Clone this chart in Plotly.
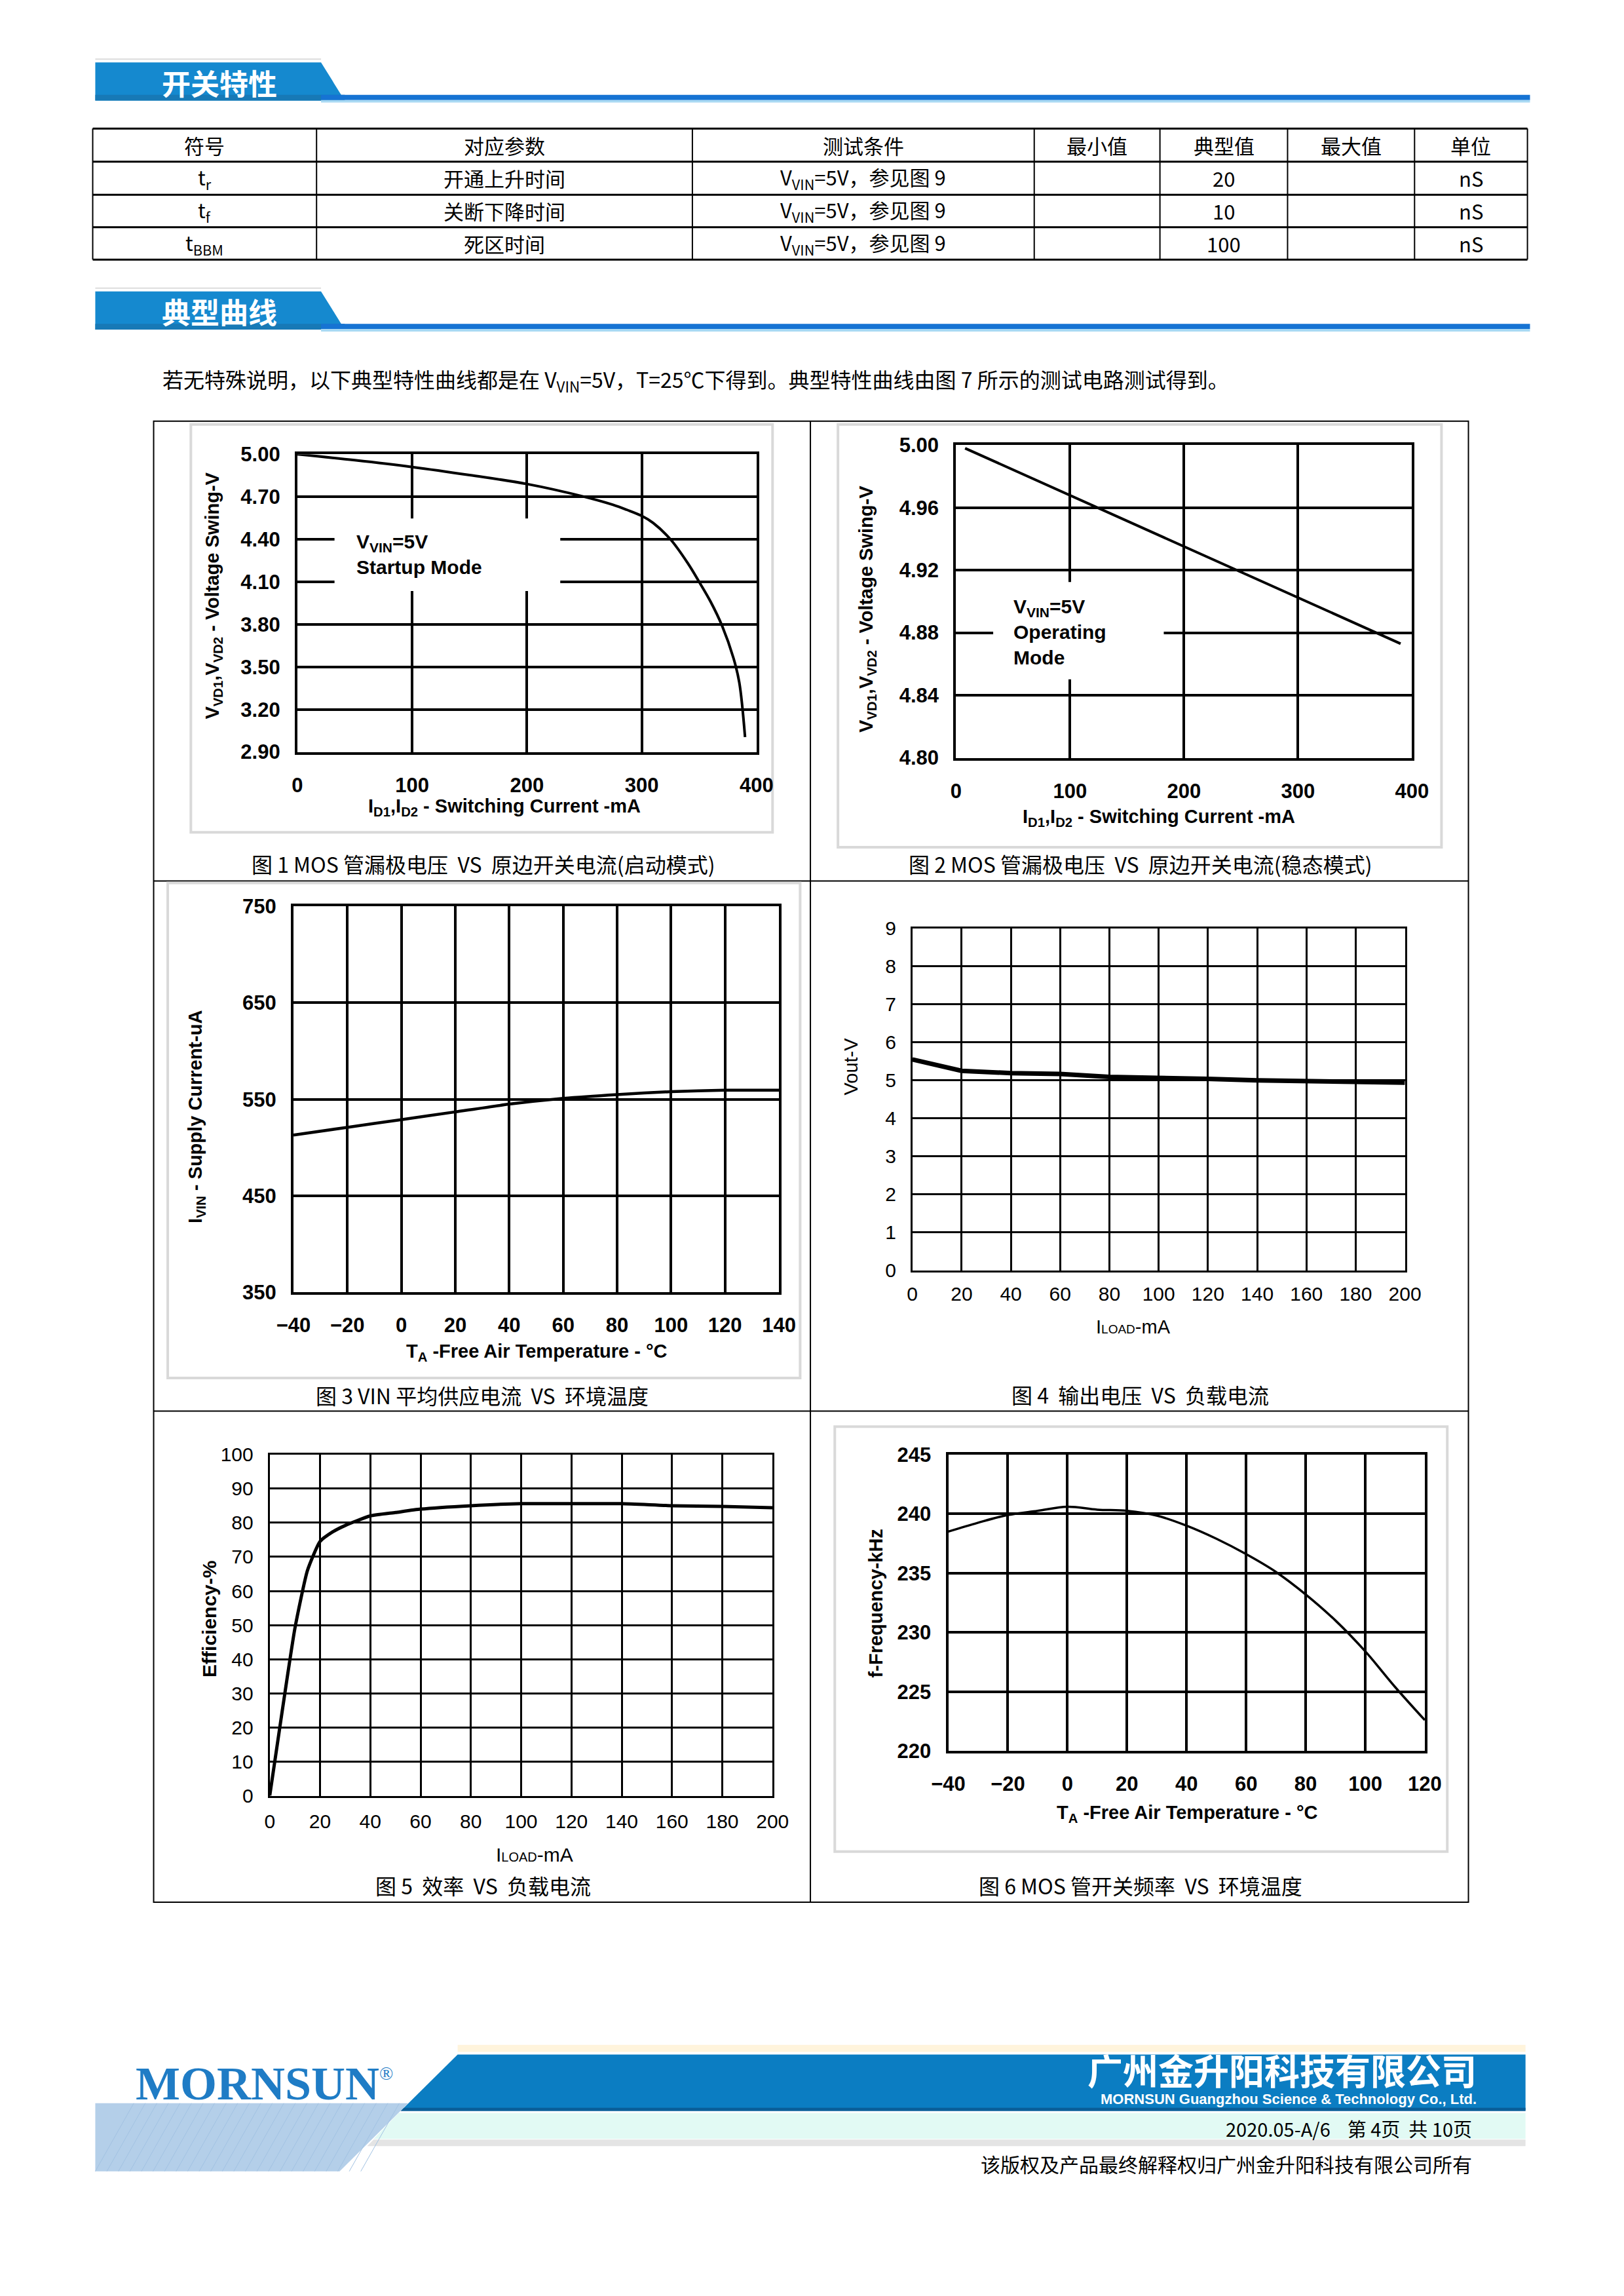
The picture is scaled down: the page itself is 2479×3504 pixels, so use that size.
import plotly.graph_objects as go

W, H = 2479, 3504
CJK = "Noto Sans CJK SC"
SANS = "Liberation Sans"
SERIF = "Liberation Serif"

# ---------------- table data ----------------
tbl_header = ["符号", "对应参数", "测试条件", "最小值", "典型值", "最大值", "单位"]
tbl_symbol = ["t<sub>r</sub>", "t<sub>f</sub>", "t<sub>BBM</sub>"]
tbl_param = ["开通上升时间", "关断下降时间", "死区时间"]
tbl_cond = ["V<sub>VIN</sub>=5V，参见图 9", "V<sub>VIN</sub>=5V，参见图 9", "V<sub>VIN</sub>=5V，参见图 9"]
tbl_min = ["", "", ""]
tbl_typ = ["20", "10", "100"]
tbl_max = ["", "", ""]
tbl_unit = ["nS", "nS", "nS"]

# ---------------- chart data ----------------
# Fig 1: startup mode
c1_current = [0, 50, 100, 150, 200, 250, 275, 287, 300, 310, 325, 340, 350, 360, 370, 380, 385, 390]
c1_voltage = [5.00, 4.958, 4.91, 4.853, 4.79, 4.70, 4.643, 4.608, 4.565, 4.515, 4.40, 4.233, 4.10, 3.96, 3.79, 3.56, 3.39, 3.005]
c1_xticks = [0, 100, 200, 300, 400]
c1_yticks = [2.90, 3.20, 3.50, 3.80, 4.10, 4.40, 4.70, 5.00]

# Fig 2: operating mode
c2_current = [8, 390]
c2_voltage = [4.998, 4.873]
c2_xticks = [0, 100, 200, 300, 400]
c2_yticks = [4.80, 4.84, 4.88, 4.92, 4.96, 5.00]

# Fig 3: supply current vs temperature
c3_temp = [-40, -20, 0, 20, 40, 60, 80, 100, 120, 140]
c3_current = [513, 521, 529, 537, 545, 551, 555, 558, 559.5, 559.5]
c3_xticks = [-40, -20, 0, 20, 40, 60, 80, 100, 120, 140]
c3_yticks = [350, 450, 550, 650, 750]

# Fig 4: output voltage vs load
c4_load = [0, 20, 40, 60, 80, 100, 120, 140, 160, 180, 200]
c4_vout = [5.55, 5.25, 5.19, 5.17, 5.09, 5.07, 5.04, 5.00, 4.97, 4.95, 4.94]
c4_xticks = [0, 20, 40, 60, 80, 100, 120, 140, 160, 180, 200]
c4_yticks = [0, 1, 2, 3, 4, 5, 6, 7, 8, 9]

# Fig 5: efficiency vs load
c5_load = [0, 5, 10, 15, 20, 25, 30, 40, 50, 60, 80, 100, 120, 140, 160, 180, 200]
c5_eff = [0, 25, 49, 66, 74.5, 77.3, 79.2, 82, 83, 84, 85, 85.6, 85.6, 85.6, 85, 84.8, 84.4]
c5_xticks = [0, 20, 40, 60, 80, 100, 120, 140, 160, 180, 200]
c5_yticks = [0, 10, 20, 30, 40, 50, 60, 70, 80, 90, 100]

# Fig 6: switching frequency vs temperature
c6_temp = [-40, -30, -20, -10, 0, 10, 20, 30, 40, 50, 60, 70, 80, 90, 100, 110, 120]
c6_freq = [238.5, 239.25, 239.9, 240.25, 240.6, 240.35, 240.25, 239.85, 239.0, 237.9, 236.6, 235.1, 233.2, 231.0, 228.4, 225.4, 222.6]
c6_xticks = [-40, -20, 0, 20, 40, 60, 80, 100, 120]
c6_yticks = [220, 225, 230, 235, 240, 245]

captions = [
    "图 1 MOS 管漏极电压  VS  原边开关电流(启动模式)",
    "图 2 MOS 管漏极电压  VS  原边开关电流(稳态模式)",
    "图 3 VIN 平均供应电流  VS  环境温度",
    "图 4  输出电压  VS  负载电流",
    "图 5  效率  VS  负载电流",
    "图 6 MOS 管开关频率  VS  环境温度",
]

# ---------------- helpers ----------------
fig = go.Figure()
shapes = []
anns = []


def PX(x):
    return x / W


def PY(y):
    return 1 - y / H


def line(x0, y0, x1, y1, color="black", width=2, layer="above"):
    shapes.append(dict(type="line", xref="paper", yref="paper", x0=PX(x0), y0=PY(y0),
                       x1=PX(x1), y1=PY(y1), line=dict(color=color, width=width), layer=layer))


def rect(x0, y0, x1, y1, fill=None, lc=None, lw=0, layer="below"):
    d = dict(type="rect", xref="paper", yref="paper", x0=PX(x0), y0=PY(y1), x1=PX(x1), y1=PY(y0),
             layer=layer, line=dict(width=lw, color=lc if lc else "rgba(0,0,0,0)"))
    if fill:
        d["fillcolor"] = fill
    shapes.append(d)


def poly(pts, fill, layer="below"):
    p = "M " + " L ".join(f"{PX(x)},{PY(y)}" for x, y in pts) + " Z"
    shapes.append(dict(type="path", xref="paper", yref="paper", path=p, fillcolor=fill,
                       line=dict(width=0), layer=layer))


def text(x, y, s, size, color="black", family=CJK, xanchor="center", yanchor="middle",
         weight="normal", angle=0, align="center"):
    anns.append(dict(x=PX(x), y=PY(y), xref="paper", yref="paper", text=s, showarrow=False,
                     xanchor=xanchor, yanchor=yanchor, textangle=angle, align=align,
                     font=dict(family=family, size=size, color=color, weight=weight)))


# ---------------- section headers ----------------
def header(y_top, label):
    line(122, y_top - 5, 474, y_top - 5, "#dcdcdc", 2, "below")
    poly([(122, y_top), (474, y_top), (511, y_top + 59), (122, y_top + 59)], "#1589cf")
    rect(122, y_top + 50, 511, y_top + 59, "#1779b6")
    rect(474, y_top + 50, 2359, y_top + 58, "#1673d3")
    rect(474, y_top + 58, 2359, y_top + 62, "#a9d9f3")
    text(316, y_top + 31, label, 44, "white", CJK, weight="bold")


header(79, "开关特性")
header(432, "典型曲线")

# ---------------- table ----------------
col_x = [118, 467, 1053, 1586, 1782, 1981, 2179, 2355]
row_y = [181, 232, 283, 333, 383]
for yy in row_y:
    line(118, yy, 2355, yy, "black", 3)
for xx in col_x:
    line(xx, 181, xx, 383, "black", 2)
cols = [tbl_symbol, tbl_param, tbl_cond, tbl_min, tbl_typ, tbl_max, tbl_unit]
for c in range(7):
    cx = (col_x[c] + col_x[c + 1]) / 2
    text(cx, (row_y[0] + row_y[1]) / 2, tbl_header[c], 31)
    for r in range(3):
        if cols[c][r]:
            text(cx, (row_y[r + 1] + row_y[r + 2]) / 2, cols[c][r], 31)

text(225, 569, "若无特殊说明，以下典型特性曲线都是在 V<sub>VIN</sub>=5V，T=25℃下得到。典型特性曲线由图 7 所示的测试电路测试得到。",
     32, xanchor="left")

# ---------------- chart grid frame ----------------
rect(213, 632, 2263, 2915, None, "black", 2, "below")
line(1237, 632, 1237, 2915, "black", 2, "below")
line(213, 1341, 2263, 1341, "black", 2, "below")
line(213, 2158, 2263, 2158, "black", 2, "below")
# light grey inner frames
rect(271, 637, 1178, 1266, None, "#d9d9d9", 4, "below")
rect(1280, 637, 2221, 1289, None, "#d9d9d9", 4, "below")
rect(235, 1344, 1221, 2107, None, "#d9d9d9", 4, "below")
rect(1275, 2182, 2230, 2837, None, "#d9d9d9", 4, "below")

# ---------------- subplots ----------------
layout_axes = {}


def subplot(i, box, xr, yr, xt, yt, yfmt, tfont, lw, xstand, ystand):
    x0, y0, x1, y1 = box
    xn = "xaxis" if i == 1 else f"xaxis{i}"
    yn = "yaxis" if i == 1 else f"yaxis{i}"
    common = dict(showgrid=True, gridcolor="black", gridwidth=lw, showline=True, linecolor="black",
                  linewidth=lw, mirror=True, zeroline=False, ticks="", tickfont=tfont, fixedrange=True)
    layout_axes[xn] = dict(domain=[x0 / W, x1 / W], range=xr, tickvals=xt, tickmode="array",
                           anchor="y" if i == 1 else f"y{i}", ticklabelstandoff=xstand, **common)
    layout_axes[yn] = dict(domain=[1 - y1 / H, 1 - y0 / H], range=yr, tickvals=yt, tickmode="array",
                           anchor="x" if i == 1 else f"x{i}", ticklabelstandoff=ystand,
                           tickformat=yfmt, **common)


bold_font = dict(family=SANS, size=31, color="black", weight="bold")
reg_font = dict(family=SANS, size=30, color="black")

subplot(1, (437, 683, 1153, 1142), [0, 400], [2.90, 5.00], c1_xticks, c1_yticks, ".2f", bold_font, 4, 20, 16)
subplot(2, (1464, 669, 2175, 1151), [0, 400], [4.80, 5.00], c2_xticks, c2_yticks, ".2f", bold_font, 4, 20, 16)
subplot(3, (431, 1380, 1188, 1975), [-40, 140], [350, 750], c3_xticks, c3_yticks, "d", bold_font, 4, 20, 16)
subplot(4, (1396, 1414, 2164, 1941), [0, 200], [0, 9], c4_xticks, c4_yticks, "d", reg_font, 2.5, 8, 16)
subplot(5, (394, 2225, 1178, 2751), [0, 200], [0, 100], c5_xticks, c5_yticks, "d", reg_font, 3, 10, 16)
subplot(6, (1452, 2225, 2195, 2682), [-40, 120], [220, 245], c6_xticks, c6_yticks, "d", bold_font, 4, 20, 16)

fig.add_trace(go.Scatter(x=c1_current, y=c1_voltage, mode="lines", xaxis="x", yaxis="y",
                         line=dict(color="black", width=4, shape="spline", smoothing=1.0)))
fig.add_trace(go.Scatter(x=c2_current, y=c2_voltage, mode="lines", xaxis="x2", yaxis="y2",
                         line=dict(color="black", width=4)))
fig.add_trace(go.Scatter(x=c3_temp, y=c3_current, mode="lines", xaxis="x3", yaxis="y3",
                         line=dict(color="black", width=4.5, shape="spline", smoothing=0.6)))
fig.add_trace(go.Scatter(x=c4_load, y=c4_vout, mode="lines", xaxis="x4", yaxis="y4",
                         line=dict(color="black", width=7)))
fig.add_trace(go.Scatter(x=c5_load, y=c5_eff, mode="lines", xaxis="x5", yaxis="y5",
                         line=dict(color="black", width=5, shape="spline", smoothing=0.5)))
fig.add_trace(go.Scatter(x=c6_temp, y=c6_freq, mode="lines", xaxis="x6", yaxis="y6",
                         line=dict(color="black", width=3.5, shape="spline", smoothing=1.0)))

# white boxes behind in-plot labels (break the grid)
rect(495, 782, 847, 894, "white", None, 0, "above")
rect(1522, 880, 1788, 1030, "white", None, 0, "above")
text(527, 837, "V<sub>VIN</sub>=5V<br>Startup Mode", 30, family=SANS, xanchor="left", weight="bold", align="left")
text(1552, 957, "V<sub>VIN</sub>=5V<br>Operating<br>Mode", 30, family=SANS, xanchor="left", weight="bold", align="left")

# axis titles
text(760, 1227, "I<sub>D1</sub>,I<sub>D2</sub> - Switching Current -mA", 29, family=SANS, weight="bold")
text(306, 901, "V<sub>VD1</sub>,V<sub>VD2</sub> - Voltage Swing-V", 29, family=SANS, weight="bold", angle=-90)
text(1780, 1243, "I<sub>D1</sub>,I<sub>D2</sub> - Switching Current -mA", 29, family=SANS, weight="bold")
text(1326, 922, "V<sub>VD1</sub>,V<sub>VD2</sub> - Voltage Swing-V", 29, family=SANS, weight="bold", angle=-90)
text(810, 2068, "T<sub>A</sub> -Free Air Temperature - °C", 29, family=SANS, weight="bold")
text(280, 1705, "I<sub>VIN</sub> - Supply Current-uA", 29, family=SANS, weight="bold", angle=-90)
text(1741, 2028, "I<span style='font-size:19px'>LOAD</span>-mA", 29, family=SANS)
text(1300, 1627, "Vout-V", 29, family=SANS, angle=-90)
text(807, 2842, "I<span style='font-size:20px'>LOAD</span>-mA", 30, family=SANS)
text(300, 2479, "Efficiency-%", 30, family=SANS, weight="bold", angle=-90)
text(1825, 2779, "T<sub>A</sub> -Free Air Temperature - °C", 29, family=SANS, weight="bold")
text(1340, 2454, "f-Frequency-kHz", 29, family=SANS, weight="bold", angle=-90)

# captions
cap_pos = [(727, 1314), (1752, 1314), (725, 2133), (1751, 2132), (727, 2889), (1752, 2889)]
for (cx, cy), cap in zip(cap_pos, captions):
    text(cx, cy, cap, 32)

# ---------------- footer ----------------
rect(687, 3135, 2352, 3146, "#fff4dc")
poly([(687, 3150), (2352, 3150), (2352, 3236), (599, 3236)], "#0b7dc2")
poly([(603, 3232), (2352, 3232), (2352, 3237), (598, 3237)], "#0a5e98")
poly([(595, 3240), (2352, 3240), (2352, 3280), (556, 3280)], "#e2faf4")
poly([(556, 3281), (2352, 3281), (2352, 3291), (546, 3291)], "#e4e4e4")
poly([(122, 3225), (610, 3225), (503, 3330), (122, 3330)], "#b4cfe9")
for k in range(24):
    xs = 122 + k * 18
    line(xs, 3330, xs + 60, 3225, "#a2c2e2", 1, "below")
text(386, 3195, "<b>MORNSUN</b><sup><span style='font-size:28px'>®</span></sup>", 72, "#1f7cc5", SERIF)
text(2278, 3173, "广州金升阳科技有限公司", 54, "white", CJK, xanchor="right", weight="bold")
text(2278, 3219, "MORNSUN Guangzhou Science &amp; Technology Co., Ltd.", 22, "white", SANS, xanchor="right", weight="bold")
text(2271, 3264, "2020.05-A/6    第 4页  共 10页", 29, "black", CJK, xanchor="right")
text(2271, 3318, "该版权及产品最终解释权归广州金升阳科技有限公司所有", 30, "black", CJK, xanchor="right")

fig.update_layout(
    width=W, height=H, autosize=False,
    margin=dict(l=0, r=0, t=0, b=0, pad=0),
    paper_bgcolor="white", plot_bgcolor="white",
    showlegend=False,
    shapes=shapes, annotations=anns,
    **layout_axes,
)

fig.write_html("out.html", config={"displayModeBar": False})

# remove the browser's default page margin so the figure sits at (0, 0)
with open("out.html", "r", encoding="utf-8") as f:
    html = f.read()
html = html.replace("<head>", "<head><style>html,body{margin:0;padding:0;overflow:hidden;}</style>", 1)
with open("out.html", "w", encoding="utf-8") as f:
    f.write(html)
